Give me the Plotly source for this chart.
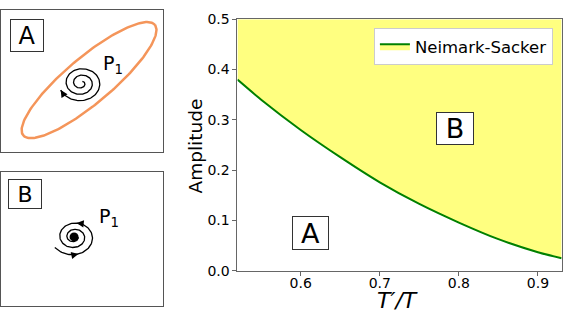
import numpy as np
import plotly.graph_objects as go

# ---- data ----
t_ratio = [0.52, 0.55, 0.60, 0.65, 0.70, 0.75, 0.80, 0.85, 0.90, 0.93]
amplitude_ns = [0.380, 0.340, 0.280, 0.226, 0.176, 0.133, 0.096, 0.063, 0.037, 0.025]
x_ticks = [0.6, 0.7, 0.8, 0.9]
y_ticks = [0.0, 0.1, 0.2, 0.3, 0.4, 0.5]
series_name = "Neimark-Sacker"
region_labels = ["A", "B"]
x_title = "<i>T′/T</i>"
y_title = "Amplitude"

FONT = "DejaVu Sans"
fig = go.Figure()

# main chart: fill region B (above curve)
fig.add_trace(go.Scatter(x=t_ratio, y=[0.5] * len(t_ratio), mode="lines",
                         line=dict(width=0, color="rgba(0,0,0,0)"), showlegend=False,
                         hoverinfo="skip"))
fig.add_trace(go.Scatter(x=t_ratio, y=amplitude_ns, mode="lines", name=series_name,
                         line=dict(color="green", width=2, shape="spline", smoothing=0.6),
                         fill="tonexty", fillcolor="#ffff80"))

# ---- inset A: limit cycle + unstable spiral ----
th = np.linspace(0, 2 * np.pi, 200)
a_, b_, ang = 86, 23, np.deg2rad(40)
cx, cy = 88, 72
ex = cx + a_ * np.cos(th) * np.cos(ang) - b_ * np.sin(th) * np.sin(ang)
ey = cy + a_ * np.cos(th) * np.sin(ang) + b_ * np.sin(th) * np.cos(ang)
fig.add_trace(go.Scatter(x=ex, y=ey, xaxis="x2", yaxis="y2", mode="lines",
                         line=dict(color="#f4955a", width=2.5), showlegend=False, hoverinfo="skip"))

# clockwise outward spiral (y-up coords): angle decreasing
phi_end = np.deg2rad(202)
phi = np.linspace(phi_end + 2.6 * 2 * np.pi, phi_end, 300)
s = (phi[0] - phi) / (phi[0] - phi_end)
r = 2.5 + 19.5 * s
sx = 80 + r * np.cos(phi)
sy = 69 + r * np.sin(phi) * 0.85
fig.add_trace(go.Scatter(x=sx, y=sy, xaxis="x2", yaxis="y2", mode="lines",
                         line=dict(color="black", width=1.3), showlegend=False, hoverinfo="skip"))

# ---- inset B: stable spiral ----
phiB0 = np.deg2rad(213)
phiB = np.linspace(phiB0, phiB0 + 2.4 * 2 * np.pi, 300)
sB = (phiB - phiB0) / (phiB[-1] - phiB0)
rB = 23 - 19 * sB ** 0.8
bx = 73 + rB * np.cos(phiB)
by = 69 + rB * np.sin(phiB) * 0.85
fig.add_trace(go.Scatter(x=bx, y=by, xaxis="x3", yaxis="y3", mode="lines",
                         line=dict(color="black", width=1.3), showlegend=False, hoverinfo="skip"))
fig.add_trace(go.Scatter(x=[73], y=[69], xaxis="x3", yaxis="y3", mode="markers",
                         marker=dict(color="black", size=9), showlegend=False, hoverinfo="skip"))

annotations = []


def arrow_at(xs, ys, i, xref, yref, length=7):
    dx = xs[i] - xs[i - 2]
    dy = ys[i] - ys[i - 2]
    n = np.hypot(dx, dy)
    dx, dy = dx / n, dy / n
    annotations.append(dict(x=xs[i], y=ys[i], xref=xref, yref=yref, ax=-dx * length, ay=dy * length,
                            showarrow=True, arrowhead=2, arrowsize=1.1, arrowwidth=1.3,
                            arrowcolor="black", text="", standoff=0))


arrow_at(sx, sy, len(sx) - 1, "x2", "y2")
iB_bot = int(np.argmin(np.abs(phiB - np.deg2rad(283))))
iB_top = int(np.argmin(np.abs(phiB - np.deg2rad(440))))
arrow_at(bx, by, iB_bot, "x3", "y3")
arrow_at(bx, by, iB_top, "x3", "y3")

box = dict(showarrow=False, bgcolor="white", bordercolor="#333", borderwidth=1, borderpad=0)
annotations += [
    dict(text=region_labels[0], x=0.613, y=0.075, xref="x", yref="y", width=35, height=32,
         font=dict(family=FONT, size=27, color="black"), **box),
    dict(text=region_labels[1], x=0.795, y=0.283, xref="x", yref="y", width=36, height=31,
         font=dict(family=FONT, size=27, color="black"), **box),
    dict(text=region_labels[0], x=26, y=116.5, xref="x2", yref="y2", width=32, height=31,
         font=dict(family=FONT, size=24, color="black"), **box),
    dict(text=region_labels[1], x=24, y=112, xref="x3", yref="y3", width=32, height=28,
         font=dict(family=FONT, size=22, color="black"), **box),
    dict(text="P<sub>1</sub>", x=112, y=88, xref="x2", yref="y2", showarrow=False,
         font=dict(family=FONT, size=19, color="black")),
    dict(text="P<sub>1</sub>", x=108, y=88, xref="x3", yref="y3", showarrow=False,
         font=dict(family=FONT, size=19, color="black")),
    dict(text=x_title, x=397 / 582, y=0.0, xref="paper", yref="paper",
         xanchor="center", yanchor="bottom",
         showarrow=False, font=dict(family=FONT, size=22, color="black")),
    dict(text=y_title, x=195 / 582, y=1 - 145.5 / 315, xref="paper", yref="paper",
         xanchor="center", yanchor="middle",
         textangle=-90, showarrow=False, font=dict(family=FONT, size=18.5, color="black")),
]

inset_axis = dict(showticklabels=False, ticks="", showgrid=False, zeroline=False, automargin=False,
                  showline=True, mirror=True, linecolor="#555", linewidth=1, fixedrange=True)

fig.update_layout(
    width=582, height=315,
    margin=dict(l=0, r=0, t=0, b=0, pad=0, autoexpand=False),
    paper_bgcolor="white", plot_bgcolor="white",
    font=dict(family=FONT, color="black"),
    xaxis=dict(domain=[0.408, 0.965], range=[0.52, 0.93], tickvals=x_ticks, automargin=False,
               tickformat=".1f", ticks="outside", ticklen=4, tickcolor="#666",
               ticklabelstandoff=-5,
               showline=True, mirror=True, linecolor="#666", linewidth=1,
               showgrid=False, zeroline=False, tickfont=dict(size=14)),
    yaxis=dict(domain=[0.140, 0.939], range=[0, 0.5], tickvals=y_ticks, automargin=False,
               tickformat=".1f", ticks="outside", ticklen=4, tickcolor="#666",
               showline=True, mirror=True, linecolor="#666", linewidth=1,
               showgrid=False, zeroline=False, tickfont=dict(size=14)),
    xaxis2=dict(domain=[0.002, 0.28], range=[0, 162], anchor="y2", **inset_axis),
    yaxis2=dict(domain=[0.517, 0.968], range=[0, 142], anchor="x2", **inset_axis),
    xaxis3=dict(domain=[0.002, 0.28], range=[0, 162], anchor="y3", **inset_axis),
    yaxis3=dict(domain=[0.029, 0.454], range=[0, 134], anchor="x3", **inset_axis),
    legend=dict(x=0.95, xanchor="right", y=0.911, yanchor="top", bgcolor="white",
                bordercolor="#ccc", borderwidth=1, font=dict(size=16.5)),
    annotations=annotations,
    showlegend=True,
)

fig.write_html("out.html", config={"displayModeBar": False},
               post_script="document.body.style.margin='0';")
